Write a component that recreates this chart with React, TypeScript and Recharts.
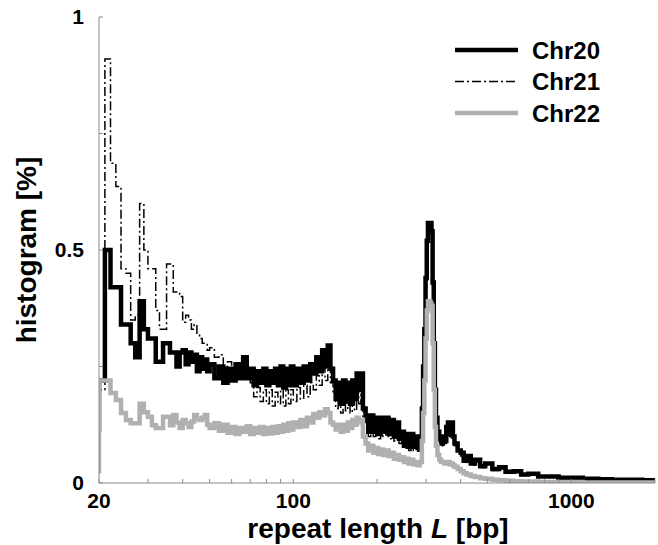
import React from 'react';
import { LineChart, Line, XAxis, YAxis, Legend } from 'recharts';

// repeat length L [bp] (bin starts, drawn as stairs)
const repeatLengths = [
  20, 20, 21, 22, 23, 24, 25, 26, 27, 28, 29,
  30, 31, 32, 33, 34, 35, 36, 37, 38, 39,
  40, 41, 42, 43, 44, 45, 46, 47, 48, 49,
  50, 52, 54, 56, 58, 60, 62, 64, 66, 68,
  70, 72, 74, 76, 78, 80, 82, 84, 86, 88,
  90, 92, 94, 96, 98, 100, 103, 106, 109, 112,
  115, 118, 121, 124, 127, 130, 133, 136, 139, 142,
  145, 148, 151, 154, 157, 160, 163, 166, 169, 172,
  175, 178, 182, 186, 190, 194, 198, 202, 206, 210,
  215, 220, 225, 230, 235, 240, 245, 250, 255, 260,
  265, 270, 275, 280, 285, 290, 293, 296, 299, 302,
  305, 308, 311, 314, 317, 320, 323, 326, 330, 335,
  340, 345, 350, 355, 360, 365, 370, 375, 380, 390,
  400, 410, 420, 435, 450, 470, 490, 520, 550, 580,
  620, 660, 700, 760, 830, 900, 1000, 1100, 1250, 1400,
  1600, 1800, 2000,
];

// histogram [%]
const chr20 = [
  0.11, 0.22, 0.5, 0.42, 0.42, 0.34, 0.34, 0.3, 0.27, 0.39, 0.33,
  0.31, 0.31, 0.26, 0.26, 0.3, 0.3, 0.28, 0.28, 0.25, 0.28,
  0.285, 0.255, 0.28, 0.26, 0.275, 0.24, 0.27, 0.245, 0.265, 0.24,
  0.255, 0.225, 0.25, 0.215, 0.245, 0.22, 0.255, 0.225, 0.27, 0.225,
  0.245, 0.21, 0.24, 0.215, 0.245, 0.21, 0.24, 0.215, 0.245, 0.21,
  0.25, 0.205, 0.245, 0.21, 0.25, 0.21, 0.245, 0.215, 0.25, 0.22,
  0.255, 0.235, 0.27, 0.24, 0.285, 0.25, 0.295, 0.245, 0.22, 0.18,
  0.215, 0.17, 0.22, 0.175, 0.215, 0.17, 0.22, 0.18, 0.235, 0.2,
  0.235, 0.16, 0.145, 0.11, 0.145, 0.11, 0.14, 0.105, 0.14, 0.11,
  0.14, 0.105, 0.135, 0.1, 0.13, 0.095, 0.11, 0.08, 0.105, 0.078,
  0.105, 0.078, 0.1, 0.075, 0.1, 0.16, 0.25, 0.33, 0.44, 0.52,
  0.558, 0.55, 0.558, 0.54, 0.43, 0.3, 0.2, 0.14, 0.11, 0.095,
  0.085, 0.1, 0.09, 0.12, 0.13, 0.105, 0.13, 0.1, 0.085, 0.07,
  0.065, 0.048, 0.058, 0.042, 0.05, 0.036, 0.042, 0.03, 0.034, 0.024,
  0.025, 0.018, 0.02, 0.014, 0.014, 0.011, 0.011, 0.009, 0.008, 0.007,
  0.007, 0.006, 0.006,
];

const chr21 = [
  0.15, 0.2, 0.91, 0.686, 0.636, 0.46, 0.45, 0.35, 0.36, 0.6, 0.5,
  0.46, 0.46, 0.37, 0.33, 0.33, 0.47, 0.47, 0.41, 0.41, 0.4,
  0.345, 0.36, 0.35, 0.33, 0.34, 0.317, 0.31, 0.3, 0.3, 0.285,
  0.29, 0.27, 0.275, 0.25, 0.26, 0.24, 0.255, 0.235, 0.25, 0.225,
  0.215, 0.185, 0.205, 0.175, 0.2, 0.17, 0.2, 0.165, 0.195, 0.17,
  0.2, 0.165, 0.2, 0.17, 0.2, 0.175, 0.205, 0.18, 0.21, 0.185,
  0.215, 0.2, 0.23, 0.21, 0.245, 0.22, 0.25, 0.215, 0.19, 0.16,
  0.19, 0.15, 0.19, 0.155, 0.185, 0.15, 0.19, 0.155, 0.2, 0.17,
  0.2, 0.14, 0.13, 0.1, 0.13, 0.1, 0.125, 0.095, 0.125, 0.1,
  0.125, 0.095, 0.12, 0.09, 0.115, 0.085, 0.1, 0.075, 0.095, 0.07,
  0.095, 0.07, 0.09, 0.068, 0.09, 0.15, 0.23, 0.3, 0.42, 0.5,
  0.53, 0.545, 0.54, 0.545, 0.42, 0.28, 0.18, 0.13, 0.1, 0.09,
  0.08, 0.09, 0.085, 0.11, 0.125, 0.1, 0.12, 0.095, 0.08, 0.065,
  0.058, 0.044, 0.052, 0.038, 0.045, 0.033, 0.038, 0.027, 0.03, 0.022,
  0.022, 0.016, 0.018, 0.013, 0.013, 0.01, 0.01, 0.008, 0.007, 0.007,
  0.006, 0.006, 0.005,
];

const chr22 = [
  0.02, 0.22, 0.22, 0.193, 0.178, 0.15, 0.135, 0.128, 0.128, 0.17, 0.152,
  0.142, 0.124, 0.118, 0.118, 0.142, 0.142, 0.124, 0.146, 0.13, 0.118,
  0.135, 0.128, 0.12, 0.132, 0.146, 0.138, 0.135, 0.14, 0.146, 0.125,
  0.118, 0.128, 0.112, 0.125, 0.108, 0.12, 0.105, 0.118, 0.11, 0.122,
  0.105, 0.118, 0.108, 0.12, 0.105, 0.118, 0.106, 0.12, 0.108, 0.122,
  0.11, 0.125, 0.112, 0.128, 0.115, 0.13, 0.12, 0.135, 0.122, 0.14,
  0.13, 0.148, 0.14, 0.152, 0.145, 0.158, 0.15, 0.13, 0.125, 0.115,
  0.125, 0.11, 0.125, 0.112, 0.13, 0.118, 0.135, 0.125, 0.14, 0.13,
  0.135, 0.1, 0.085, 0.07, 0.08, 0.065, 0.075, 0.062, 0.072, 0.06,
  0.07, 0.058, 0.065, 0.052, 0.06, 0.05, 0.055, 0.045, 0.052, 0.042,
  0.05, 0.04, 0.045, 0.038, 0.045, 0.09, 0.15, 0.22, 0.31, 0.37,
  0.39, 0.39, 0.385, 0.38, 0.3, 0.2, 0.12, 0.08, 0.06, 0.05,
  0.045, 0.045, 0.042, 0.045, 0.045, 0.04, 0.042, 0.038, 0.035, 0.03,
  0.025, 0.021, 0.018, 0.015, 0.013, 0.01, 0.009, 0.007, 0.006, 0.005,
  0.004, 0.003, 0.003, 0.002, 0.002, 0.002, 0.002, 0.001, 0.001, 0.001,
  0.001, 0.001, 0.001,
];

const xTicks = [20, 30, 40, 50, 60, 70, 80, 90, 100, 200, 300, 400, 500, 600, 700, 800, 900, 1000, 2000];
const xTickLabels = [20, 100, 1000];
const yTicks = [0, 0.25, 0.5, 0.75, 1];
const yTickLabels = [0, 0.5, 1];
const seriesKeys = ['chr20', 'chr21', 'chr22'];
const seriesNames = ['Chr20', 'Chr21', 'Chr22'];
const seriesColors = ['#000000', '#000000', '#b0b0b0'];
const seriesWidths = [4.5, 1.5, 4.5];
const seriesDashes = [undefined, '9 3 2 3', undefined];

const data = repeatLengths.map((L, i) => ({
  L,
  chr20: chr20[i],
  chr21: chr21[i],
  chr22: chr22[i],
}));

const FONT = '"Liberation Sans", Arial, Helvetica, sans-serif';
const AXIS_COLOR = '#8a8a8a';

const renderLegend = (props: any) => {
  const payload = (props.payload || []).slice();
  payload.sort(
    (a: any, b: any) => seriesKeys.indexOf(a.dataKey) - seriesKeys.indexOf(b.dataKey)
  );
  return (
    <svg width={210} height={100} style={{ display: 'block' }}>
      {payload.map((entry: any, i: number) => {
        const idx = seriesKeys.indexOf(entry.dataKey);
        const ly = 18 + i * 31.5;
        return (
          <g key={entry.dataKey}>
            <line
              x1={5}
              x2={68}
              y1={ly}
              y2={ly}
              stroke={entry.color}
              strokeWidth={seriesWidths[idx]}
              strokeDasharray={seriesDashes[idx]}
            />
            <text
              x={82}
              y={ly + 8.5}
              fontFamily={FONT}
              fontWeight="bold"
              fontSize={24}
              fill="#000"
            >
              {entry.value}
            </text>
          </g>
        );
      })}
    </svg>
  );
};

const renderXTitle = () => (
  <text
    x={378}
    y={538}
    textAnchor="middle"
    fontFamily={FONT}
    fontWeight="bold"
    fontSize={28}
    fill="#000"
  >
    repeat length <tspan fontStyle="italic">L</tspan> [bp]
  </text>
);

const renderYTitle = () => (
  <text
    x={36}
    y={250}
    transform="rotate(-90, 36, 250)"
    textAnchor="middle"
    fontFamily={FONT}
    fontWeight="bold"
    fontSize={28}
    fill="#000"
  >
    histogram [%]
  </text>
);

export default function App() {
  const order = [1, 0, 2];
  return (
    <div style={{ position: 'absolute', left: 0, top: 0, background: '#fff' }}>
      <LineChart
        width={658}
        height={545}
        data={data}
        margin={{ top: 17, right: 3, bottom: 0, left: 0 }}
      >
        <XAxis
          dataKey="L"
          type="number"
          scale="log"
          domain={[20, 2000]}
          allowDataOverflow
          ticks={xTicks}
          interval={0}
          tickFormatter={(v: number) => (xTickLabels.includes(v) ? String(v) : '')}
          height={62}
          tickSize={-4}
          tickMargin={14}
          axisLine={{ stroke: AXIS_COLOR, strokeWidth: 1 }}
          tickLine={{ stroke: AXIS_COLOR, strokeWidth: 1 }}
          tick={{ fill: '#000', fontSize: 21, fontWeight: 'bold', fontFamily: FONT }}
          label={renderXTitle}
        />
        <YAxis
          type="number"
          domain={[0, 1]}
          allowDataOverflow
          ticks={yTicks}
          interval={0}
          tickFormatter={(v: number) => (yTickLabels.includes(v) ? String(v) : '')}
          width={99}
          tickSize={-4}
          tickMargin={19}
          axisLine={{ stroke: AXIS_COLOR, strokeWidth: 1 }}
          tickLine={{ stroke: AXIS_COLOR, strokeWidth: 1 }}
          tick={{ fill: '#000', fontSize: 21, fontWeight: 'bold', fontFamily: FONT }}
          label={renderYTitle}
        />
        <Legend
          layout="horizontal"
          verticalAlign="middle"
          align="center"
          content={renderLegend}
          wrapperStyle={{ left: 450, top: 32, width: 210, height: 100 }}
        />
        {order.map((i) => (
          <Line
            key={seriesKeys[i]}
            dataKey={seriesKeys[i]}
            name={seriesNames[i]}
            type="stepAfter"
            stroke={seriesColors[i]}
            strokeWidth={seriesWidths[i]}
            strokeDasharray={seriesDashes[i]}
            dot={false}
            activeDot={false}
            isAnimationActive={false}
          />
        ))}
      </LineChart>
    </div>
  );
}
